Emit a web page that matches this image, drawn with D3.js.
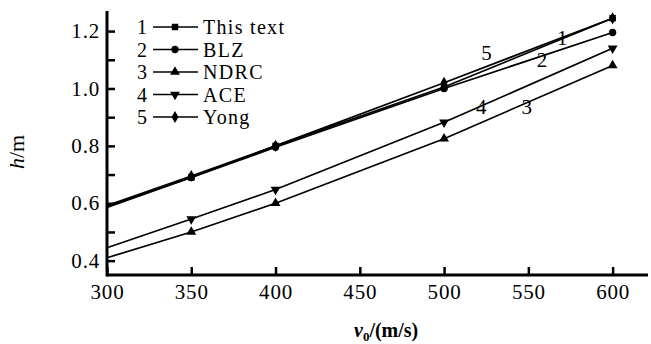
<!DOCTYPE html>
<html>
<head>
<meta charset="utf-8">
<style>
    body { margin: 0; background: #fff; }
    svg { display: block; }
    .axis .domain { display: none; }
    .axis .tick line { stroke: #000; stroke-width: 2.5; }
</style>
</head>
<body>
<svg width="651" height="344"></svg>
<script src="https://d3js.org/d3.v7.min.js"></script>
<script>
    // speeds v0 (m/s)
    let speeds = [300, 350, 400, 500, 600];

    let seriesNames = ["This text", "BLZ", "NDRC", "ACE", "Yong"];
    let thisText = [0.59, 0.69, 0.80, 1.005, 1.245];
    let blz      = [0.585, 0.69, 0.795, 1.00, 1.195];
    let ndrc     = [0.41, 0.50, 0.60, 0.825, 1.08];
    let ace      = [0.445, 0.545, 0.648, 0.882, 1.14];
    let yong     = [0.592, 0.695, 0.80, 1.02, 1.245];

    let xTicks = [300, 350, 400, 450, 500, 550, 600];
    let yTicks = [0.4, 0.5, 0.6, 0.7, 0.8, 0.9, 1.0, 1.1, 1.2];

    let allSeries = [thisText, blz, ndrc, ace, yong];
    let symbols = [d3.symbolSquare, d3.symbolCircle, d3.symbolTriangle, "down", d3.symbolDiamond];

    let serif = "'Liberation Serif', 'Times New Roman', serif";

    let svg = d3.select("svg");

    let x = d3.scaleLinear().domain([300, 621]).range([107, 648]);
    let y = d3.scaleLinear().domain([0.35, 1.27]).range([275, 11]);

    // axes
    svg.append("g")
        .attr("class", "x axis")
        .attr("transform", `translate(0,${y(0.35)})`)
        .call(d3.axisBottom(x).tickValues(xTicks).tickSizeInner(-8).tickSizeOuter(0).tickPadding(9).tickFormat(d3.format("d")));

    svg.append("g")
        .attr("class", "y axis")
        .attr("transform", `translate(${x(300)},0)`)
        .call(d3.axisLeft(y).tickValues(yTicks).tickSizeInner(-8).tickSizeOuter(0).tickPadding(7)
            .tickFormat(d => (Math.round(d * 10) % 2 == 0) ? d3.format(".1f")(d) : ""));

    svg.selectAll(".axis .tick text")
        .style("font-family", serif)
        .style("font-size", "21px")
        .style("letter-spacing", "0.8px")
        .attr("fill", "#000");

    svg.append("line")
        .attr("x1", x(300)).attr("x2", x(621))
        .attr("y1", y(0.35)).attr("y2", y(0.35))
        .attr("stroke", "#000").attr("stroke-width", 3);
    svg.append("line")
        .attr("x1", x(300)).attr("x2", x(300))
        .attr("y1", y(0.35) + 1.5).attr("y2", y(1.27))
        .attr("stroke", "#000").attr("stroke-width", 3);

    function marker(g, s) {
        if (s == "down") {
            g.append("path").attr("d", d3.symbol(d3.symbolTriangle, 42)()).attr("transform", "rotate(180)");
        } else {
            g.append("path").attr("d", d3.symbol(s, 42)());
        }
        g.selectAll("path").attr("fill", "#000");
    }

    let line = d3.line()
        .x((d, i) => x(speeds[i]))
        .y(d => y(d));

    allSeries.forEach(function (vals, k) {
        svg.append("path")
            .attr("d", line(vals))
            .attr("fill", "none")
            .attr("stroke", "#000")
            .attr("stroke-width", 1.7);

        vals.forEach(function (v, i) {
            if (i == 0) return;
            let g = svg.append("g").attr("transform", `translate(${x(speeds[i])},${y(v)})`);
            marker(g, symbols[k]);
        });
    });

    // curve labels
    let curveLabels = [
        { t: "1", v: 567, h: 1.15 },
        { t: "2", v: 555, h: 1.075 },
        { t: "3", v: 546, h: 0.911 },
        { t: "4", v: 519, h: 0.911 },
        { t: "5", v: 522, h: 1.10 }
    ];
    svg.selectAll(".curve-label")
        .data(curveLabels)
        .join("text")
        .attr("class", "curve-label")
        .attr("x", d => x(d.v))
        .attr("y", d => y(d.h))
        .style("font-family", serif)
        .style("font-size", "21px")
        .text(d => d.t);

    // legend
    let legend = svg.append("g").attr("class", "legend");
    seriesNames.forEach(function (name, k) {
        let cy = 27 + k * 22.5;
        legend.append("text").attr("x", 147).attr("y", cy + 7).attr("text-anchor", "end")
            .style("font-family", serif).style("font-size", "20px").text(k + 1);
        legend.append("line").attr("x1", 153).attr("x2", 198).attr("y1", cy).attr("y2", cy)
            .attr("stroke", "#000").attr("stroke-width", 1.7);
        let g = legend.append("g").attr("transform", `translate(175,${cy})`);
        marker(g, symbols[k]);
        legend.append("text").attr("x", 203).attr("y", cy + 7)
            .style("font-family", serif).style("font-size", "20px").style("letter-spacing", "1.3px").text(name);
    });

    // axis titles
    svg.append("text")
        .attr("transform", "translate(24,152) rotate(-90)")
        .attr("text-anchor", "middle")
        .style("font-family", serif)
        .style("font-size", "22px")
        .html('<tspan font-style="italic">h</tspan>/m');

    svg.append("text")
        .attr("x", 354)
        .attr("y", 337)
        .style("font-family", serif)
        .style("font-size", "20px")
        .style("font-weight", "bold")
        .html('<tspan font-style="italic">v</tspan><tspan font-size="13px" dy="4">0</tspan><tspan dy="-4">/(m/s)</tspan>');
</script>
</body>
</html>
